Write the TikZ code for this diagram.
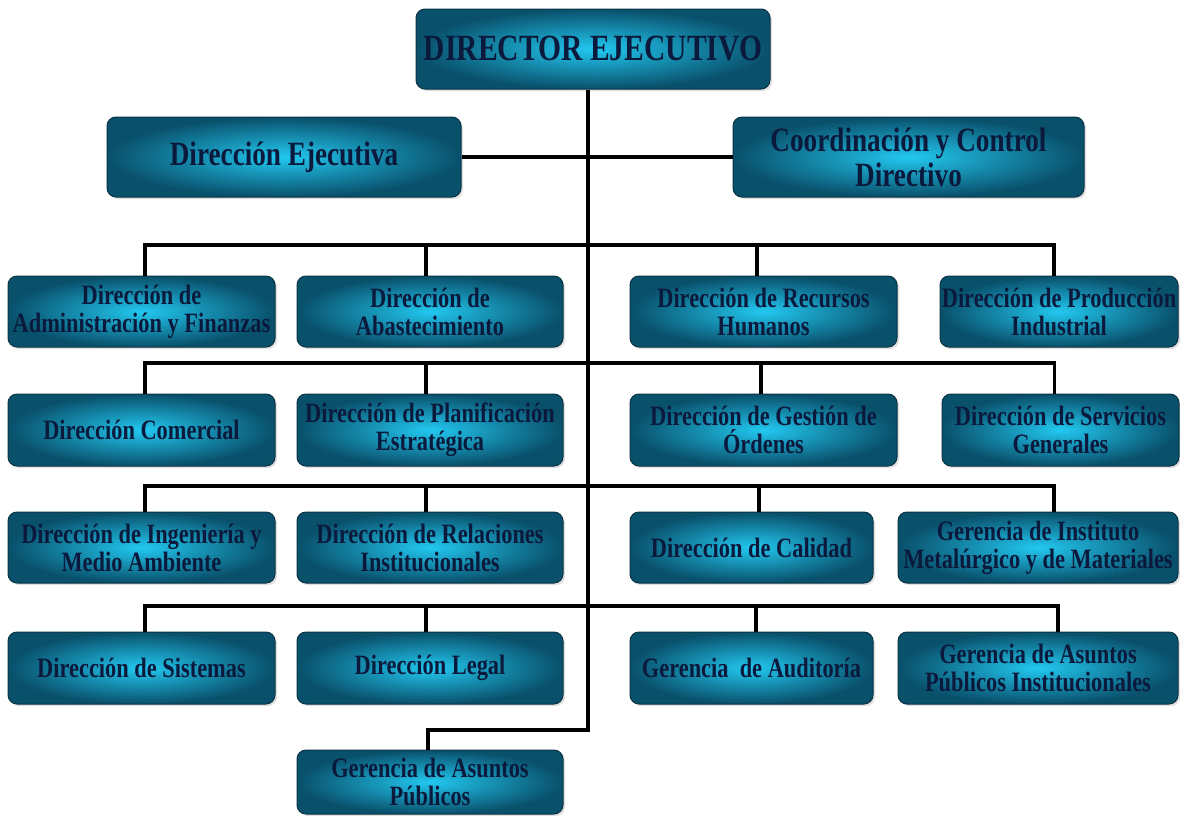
\documentclass[tikz,border=0pt]{standalone}
\usepackage{fontspec}
\newfontfamily\boxfont{Liberation Serif}[FakeStretch=0.8]
\usetikzlibrary{shadows}
\definecolor{boxin}{HTML}{22C8F0}
\definecolor{boxout}{HTML}{09506B}
\definecolor{boxrim}{HTML}{0A3345}
\definecolor{boxtext}{HTML}{0B1A3C}
\begin{document}
\begin{tikzpicture}[x=1pt,y=-1pt,
  orgbox/.style={rounded corners=9pt, draw=boxrim, line width=1pt,
    inner color=boxin, outer color=boxout, align=center, text=boxtext,
    font=\boxfont\bfseries\fontsize{28}{28}\selectfont, inner sep=0pt,
    drop shadow={opacity=0.25, shadow xshift=2pt, shadow yshift=-2pt}},
  bigbox/.style={orgbox, font=\boxfont\bfseries\fontsize{34}{35}\selectfont},
  topbox/.style={orgbox, font=\boxfont\bfseries\fontsize{37}{38}\selectfont},
  wh/.style 2 args={minimum width=#1pt, minimum height=#2pt},
  link/.style={line width=3.2pt, black}]
\fill[white] (0,0) rectangle (1180,815);
\useasboundingbox (0,0) rectangle (1180,815);

% top levels
\node[topbox, wh={354}{80}] (dir) at (593,49) {DIRECTOR EJECUTIVO};
\node[bigbox, wh={354}{80}] (dej) at (284,157) {Dirección Ejecutiva};
\node[bigbox, wh={351}{80}] (coord) at (908.5,157) {Coordinación y Control\\Directivo};

% row 1
\node[orgbox, wh={267}{71}] (r1a) at (141.5,311.5) {Dirección de\\Administración y Finanzas};
\node[orgbox, wh={266}{71}] (r1b) at (430,311.5) {Dirección de\\Abastecimiento};
\node[orgbox, wh={267}{71}] (r1c) at (763.5,311.5) {Dirección de Recursos\\Humanos};
\node[orgbox, wh={238}{71}] (r1d) at (1059,311.5) {Dirección de Producción\\Industrial};
% row 2
\node[orgbox, wh={267}{72}] (r2a) at (141.5,430) {Dirección Comercial};
\node[orgbox, wh={266}{72}] (r2b) at (430,430) {Dirección de Planificación\\Estratégica};
\node[orgbox, wh={267}{72}] (r2c) at (763.5,430) {Dirección de Gestión de\\Órdenes};
\node[orgbox, wh={237}{72}] (r2d) at (1060.5,430) {Dirección de Servicios\\Generales};
% row 3
\node[orgbox, wh={267}{71}] (r3a) at (141.5,547.5) {Dirección de Ingeniería y\\Medio Ambiente};
\node[orgbox, wh={266}{71}] (r3b) at (430,547.5) {Dirección de Relaciones\\Institucionales};
\node[orgbox, wh={243}{71}] (r3c) at (751.5,547.5) {Dirección de Calidad};
\node[orgbox, wh={280}{71}] (r3d) at (1038,547.5) {Gerencia de Instituto\\Metalúrgico y de Materiales};
% row 4
\node[orgbox, wh={267}{72}] (r4a) at (141.5,668) {Dirección de Sistemas};
\node[orgbox, wh={266}{72}] (r4b) at (430,668) {Dirección Legal};
\node[orgbox, wh={243}{72}] (r4c) at (751.5,668) {Gerencia\ \ de Auditoría};
\node[orgbox, wh={280}{72}] (r4d) at (1038,668) {Gerencia de Asuntos\\Públicos Institucionales};
% bottom
\node[orgbox, wh={266}{64}] (r5) at (430,782) {Gerencia de Asuntos\\Públicos};

% connectors
\coordinate (bot) at (588,730);
\coordinate (b1) at (588,245);
\coordinate (b2) at (588,363);
\coordinate (b3) at (588,486);
\coordinate (b4) at (588,606);

\draw[link] ([xshift=-5pt]dir.south) -- (bot) -| ([xshift=-2pt]r5.north);
\draw[link] (dej.east) -- (coord.west);

% row 1 drops
\coordinate (d1a) at ([xshift=3.5pt]r1a.north);
\coordinate (d1b) at ([xshift=-4pt]r1b.north);
\coordinate (d1c) at ([xshift=-6.5pt]r1c.north);
\coordinate (d1d) at ([xshift=-5pt]r1d.north);
\draw[link] (d1a) |- (b1) -| (d1d);
\draw[link] (d1b) -- (d1b |- b1);
\draw[link] (d1c) -- (d1c |- b1);
% row 2 drops
\coordinate (d2a) at ([xshift=3.5pt]r2a.north);
\coordinate (d2b) at ([xshift=-4pt]r2b.north);
\coordinate (d2c) at ([xshift=-2.5pt]r2c.north);
\coordinate (d2d) at ([xshift=-6pt]r2d.north);
\draw[link] (d2a) |- (b2) -| (d2d);
\draw[link] (d2b) -- (d2b |- b2);
\draw[link] (d2c) -- (d2c |- b2);
% row 3 drops
\coordinate (d3a) at ([xshift=3.5pt]r3a.north);
\coordinate (d3b) at ([xshift=-4pt]r3b.north);
\coordinate (d3c) at ([xshift=7.5pt]r3c.north);
\coordinate (d3d) at ([xshift=16pt]r3d.north);
\draw[link] (d3a) |- (b3) -| (d3d);
\draw[link] (d3b) -- (d3b |- b3);
\draw[link] (d3c) -- (d3c |- b3);
% row 4 drops
\coordinate (d4a) at ([xshift=3.5pt]r4a.north);
\coordinate (d4b) at ([xshift=-4pt]r4b.north);
\coordinate (d4c) at ([xshift=4.5pt]r4c.north);
\coordinate (d4d) at ([xshift=20pt]r4d.north);
\draw[link] (d4a) |- (b4) -| (d4d);
\draw[link] (d4b) -- (d4b |- b4);
\draw[link] (d4c) -- (d4c |- b4);
\end{tikzpicture}
\end{document}
